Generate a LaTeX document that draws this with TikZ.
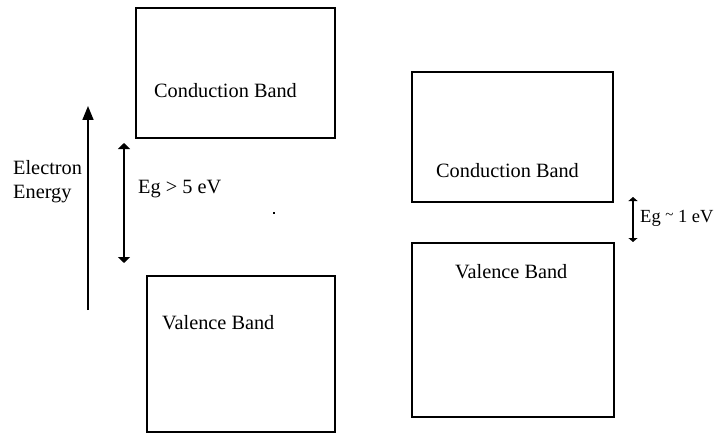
\documentclass[tikz,border=0pt]{standalone}
\usepackage{fontspec}
\setmainfont{Liberation Serif}
\usetikzlibrary{arrows.meta}
\begin{document}
\begin{tikzpicture}[x=1pt,y=-1pt,
  bandbox/.style={draw=black, line width=1.6pt, anchor=north west, inner sep=0pt, outer sep=0pt},
  lbl/.style={anchor=base west, inner sep=0pt, font=\fontsize{20.3}{24}\selectfont},
  energyarrow/.style={line width=1.6pt, -{Triangle[width=11pt,length=14pt]}},
  gaparrow/.style={line width=1.6pt, {Triangle[width=12pt,length=6pt]}-{Triangle[width=12pt,length=6pt]}},
  smallgap/.style={line width=1.6pt, {Triangle[width=9pt,length=4pt]}-{Triangle[width=9pt,length=4pt]}}]
\useasboundingbox (0,0) rectangle (717,433);

% insulator: wide band gap
\node[bandbox, minimum width=199pt, minimum height=130pt] (cbL) at (136,8) {};
\node[bandbox, minimum width=188pt, minimum height=156pt] (vbL) at (147,276) {};
\node[lbl] (cbLtext) at (154,98) {Conduction Band};
\node[lbl] (vbLtext) at (162,329) {Valence Band};

% energy axis
\coordinate (eLow) at (88,310);
\coordinate (eHigh) at (88,106);
\draw[energyarrow] (eLow) -- (eHigh);
\node[lbl] (eLabA) at (13,174) {Electron};
\node[lbl] (eLabB) at (13,198) {Energy};

% band gap of the insulator
\coordinate (gapLtop) at (124,143);
\coordinate (gapLbot) at (124,263);
\draw[gaparrow] (gapLtop) -- (gapLbot);
\node[lbl] (gapLtext) at (138,193) {Eg > 5 eV};

% stray dot
\fill (273,212) rectangle (275,214);

% semiconductor: narrow band gap
\node[bandbox, minimum width=201pt, minimum height=130pt] (cbR) at (412,72) {};
\node[bandbox, minimum width=202pt, minimum height=174pt] (vbR) at (412,243) {};
\node[lbl] (cbRtext) at (436,177) {Conduction Band};
\node[lbl] (vbRtext) at (455,278) {Valence Band};

\coordinate (gapRtop) at (633,197);
\coordinate (gapRbot) at (633,242);
\draw[smallgap] (gapRtop) -- (gapRbot);
\node[lbl, font=\fontsize{18.5}{22}\selectfont] (gapRtext) at (640,222)
  {Eg \raisebox{2.5pt}{\fontsize{15}{15}\selectfont\textasciitilde} 1 eV};
\end{tikzpicture}
\end{document}
